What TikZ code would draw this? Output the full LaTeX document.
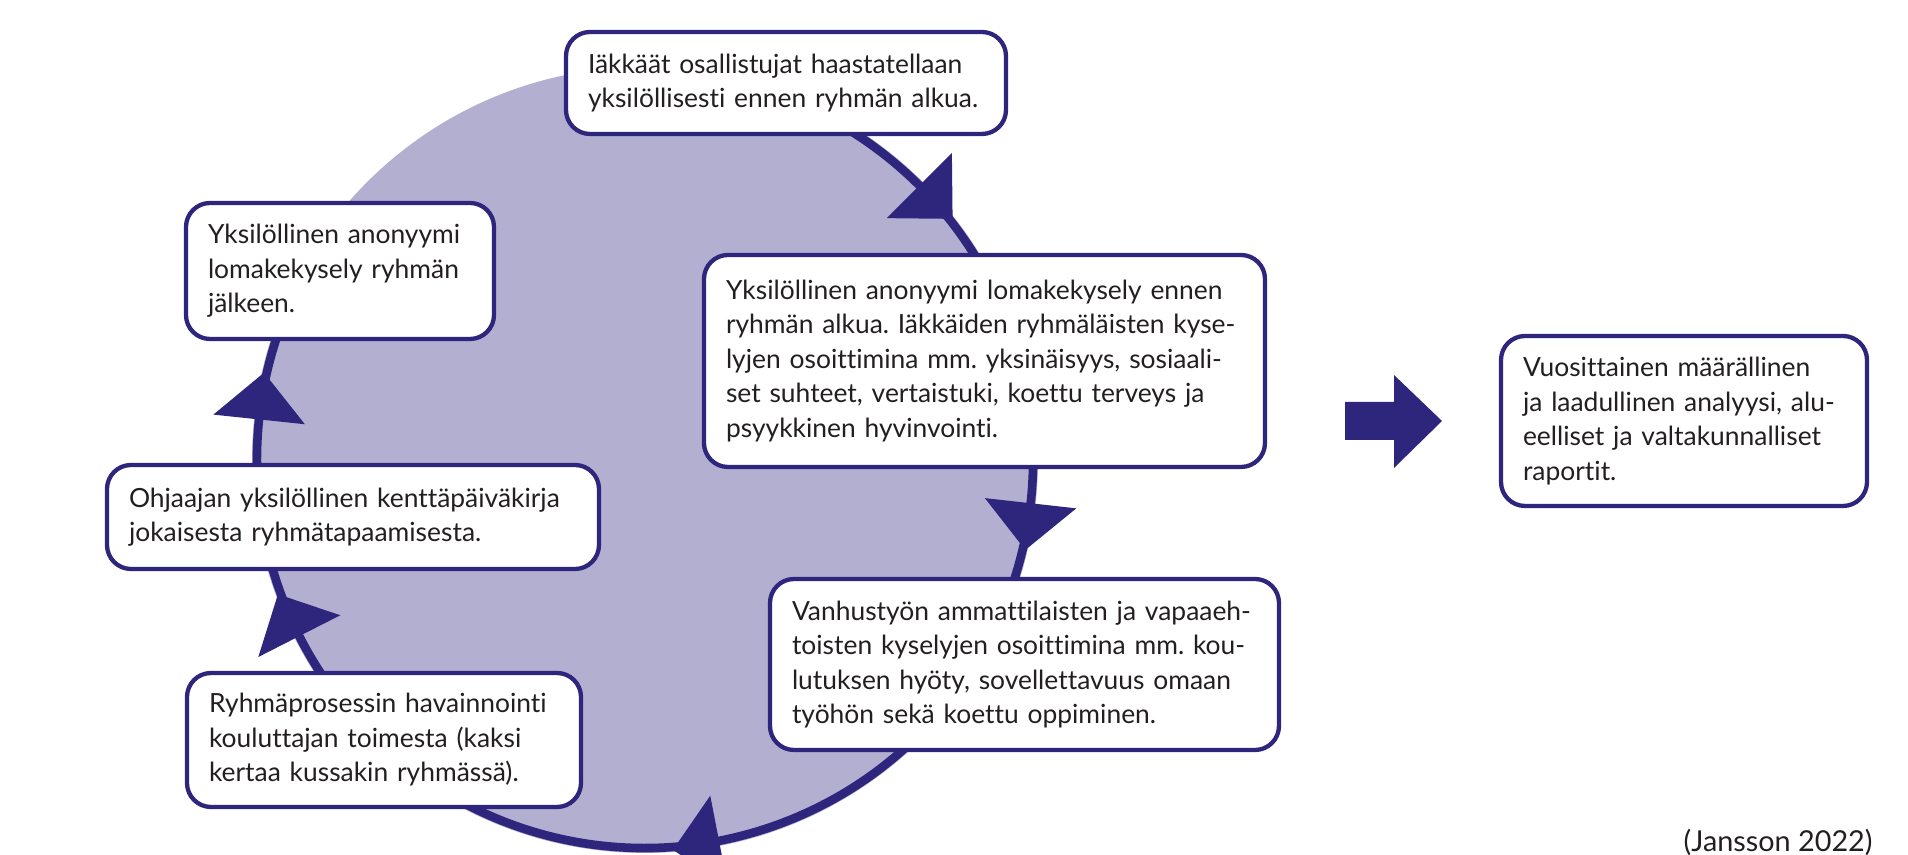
\documentclass[tikz,border=0pt]{standalone}
\usepackage{fontspec}
\setmainfont{Lato}[Ligatures=NoCommon]
\frenchspacing
\definecolor{navy}{HTML}{2E257D}
\definecolor{lav}{HTML}{B3AFD1}
\definecolor{ink}{HTML}{231F20}
\newcommand{\cycarrow}[1]{\fill[navy, shift={(645,395)}, rotate=#1] (342,0) -- (434,0) -- (388,-47) -- cycle;}
\begin{document}
\begin{tikzpicture}[x=0.5pt,y=0.5pt,
  box/.style={draw=navy, line width=2.15pt, fill=white, rounded corners=12pt,
    align=left, inner xsep=11pt, inner ysep=0pt, text=ink,
    font=\fontsize{13.2pt}{17.25pt}\selectfont},
  circ/.style={draw=navy, line width=4.3pt}]
\useasboundingbox (0,0) rectangle (1908,855);
% circle
\fill[lav] (645,395) circle[radius=393];
\draw[circ] (645,395) ++(60:388) arc[start angle=60, end angle=-210, radius=388];
\cycarrow{45}
\cycarrow{-6.4}
\cycarrow{-79}
\cycarrow{-153}
\cycarrow{174}
% boxes
\node[box, text width=198pt, minimum height=51pt] (t) at (786,772)
  {Iäkkäät osallistujat haastatellaan\\yksilöllisesti ennen ryhmän alkua.};
\node[box, text width=132pt, minimum height=68pt] (tl) at (340,584)
  {Yksilöllinen anonyymi\\lomakekysely ryhmän\\jälkeen.};
\node[box, text width=258.5pt, minimum height=106pt] (r) at (984.5,494)
  {Yksilöllinen anonyymi lomakekysely ennen\\ryhmän alkua. Iäkkäiden ryhmäläisten kyse-\\lyjen osoittimina mm. yksinäisyys, sosiaali-\\set suhteet, vertaistuki, koettu terveys ja\\psyykkinen hyvinvointi.};
\node[box, text width=224pt, minimum height=52pt] (l) at (353,338)
  {Ohjaajan yksilöllinen kenttäpäiväkirja\\jokaisesta ryhmätapaamisesta.};
\node[box, text width=232.5pt, minimum height=85.5pt] (br) at (1024.5,190.5)
  {Vanhustyön ammattilaisten ja vapaaeh-\\toisten kyselyjen osoittimina mm. kou-\\lutuksen hyöty, sovellettavuus omaan\\työhön sekä koettu oppiminen.};
\node[box, text width=175pt, minimum height=67pt] (bl) at (384,115)
  {Ryhmäprosessin havainnointi\\kouluttajan toimesta (kaksi\\kertaa kussakin ryhmässä).};
\node[box, text width=161pt, minimum height=85pt] (fr) at (1684,434)
  {Vuosittainen määrällinen\\ja laadullinen analyysi, alu-\\eelliset ja valtakunnalliset\\raportit.};
% big arrow
\fill[navy] (1345,415) -- (1394,415) -- (1394,387) -- (1442,434) -- (1394,480) -- (1394,453) -- (1345,453) -- cycle;
% citation
\node[anchor=base east, inner sep=0pt, text=ink, font=\fontsize{14.4pt}{17.25pt}\selectfont] (cite) at (1873,3) {(Jansson 2022)};
\end{tikzpicture}
\end{document}
